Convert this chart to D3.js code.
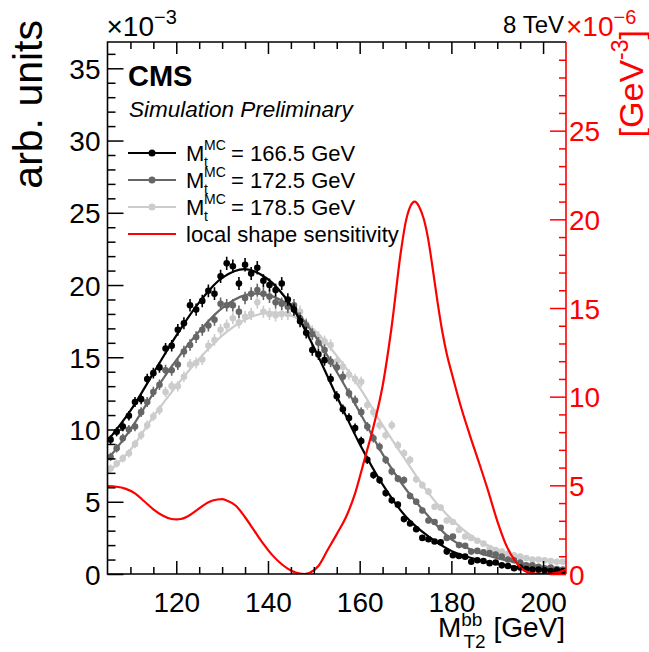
<!DOCTYPE html>
<html>
<head>
<meta charset="utf-8">
<script src="https://cdn.jsdelivr.net/npm/d3@7"></script>
<style>
  body { margin: 0; background: #fff; }
  svg { display: block; }
  text { font-family: "Liberation Sans", Arial, Helvetica, sans-serif; }
</style>
</head>
<body>
<svg id="chart" width="649" height="652"></svg>
<script>
// M_T2^bb templates, 75 bins of 4/3 GeV from 105 to 205 GeV (units of 1e-3)
const binStart = 105;
const binWidth = 4 / 3;

const mt1665 = [9.3, 9.85, 10.2, 10.95, 11.9, 12.1, 13.5, 13.9, 14.3, 15.6, 15.8, 16.9, 17.35, 18.6, 18.3,
  18.9, 19.6, 19.4, 20.6, 21.5, 21.3, 20.1, 21.4, 20.8, 21.2, 20.3, 20.0, 19.65, 20.1, 19.0,
  18.3, 17.5, 16.7, 15.5, 15.2, 14.8, 13.5, 12.3, 11.4, 10.8, 10.1, 9.2, 7.9, 6.85, 6.5,
  5.6, 5.1, 4.8, 3.8, 3.5, 3.1, 2.5, 2.4, 2.25, 2.2, 1.55, 1.3, 1.25, 1.2, 0.85,
  0.95, 0.9, 0.75, 0.8, 0.6, 0.55, 0.4, 0.45, 0.35, 0.3, 0.3, 0.25, 0.2, 0.25, 0.2];

const mt1725 = [8.1, 8.7, 9.4, 10.0, 10.2, 11.2, 11.9, 12.6, 13.1, 14.1, 14.1, 14.5, 15.4, 15.85, 16.4,
  16.9, 17.2, 17.6, 18.7, 18.6, 18.6, 18.15, 19.1, 19.4, 19.65, 19.4, 19.2, 18.8, 18.7, 18.5,
  18.6, 17.7, 17.2, 16.6, 16.0, 15.5, 14.7, 14.3, 13.65, 12.5, 12.0, 11.2, 10.2, 9.4, 8.8,
  7.9, 7.1, 6.6, 6.5, 5.4, 5.0, 4.4, 3.7, 3.6, 3.2, 2.5, 2.6, 2.0, 1.95, 1.55,
  1.6, 1.5, 1.45, 1.35, 1.2, 1.0, 0.95, 0.8, 0.6, 0.6, 0.5, 0.4, 0.45, 0.35, 0.3];

const mt1785 = [7.3, 7.65, 8.0, 8.35, 9.0, 9.6, 10.3, 10.9, 11.35, 12.6, 13.0, 13.0, 13.65, 14.5, 14.6,
  14.85, 15.8, 16.2, 16.9, 17.2, 17.7, 17.4, 17.8, 18.0, 18.8, 18.15, 18.0, 17.9, 18.0, 18.0,
  18.4, 18.15, 17.3, 16.8, 16.4, 16.1, 15.85, 14.7, 14.35, 13.8, 13.5, 13.3, 11.7, 11.2, 10.3,
  9.6, 10.3, 8.9, 8.35, 7.9, 6.55, 6.15, 5.7, 4.65, 4.6, 3.7, 3.6, 3.05, 2.6, 2.5,
  2.3, 2.1, 1.8, 1.65, 1.55, 1.4, 1.3, 1.2, 1.1, 1.0, 1.0, 0.95, 0.9, 0.85, 0.85];

// Fitted template curves
const fitMass = [105, 110, 115, 120, 125, 130, 135, 140, 145, 150, 155, 160, 165, 170, 175, 180, 185, 190, 195, 200, 205];
const fit1665 = [9.2, 11.3, 13.9, 16.5, 18.8, 20.5, 21.1, 20.4, 18.6, 15.7, 12.3, 9.0, 6.2, 4.0, 2.6, 1.6, 1.05, 0.7, 0.45, 0.3, 0.2];
const fit1725 = [7.9, 10.0, 12.5, 14.8, 16.8, 18.4, 19.3, 19.3, 18.5, 16.6, 14.0, 11.2, 8.3, 5.9, 4.0, 2.4, 1.6, 1.1, 0.75, 0.5, 0.35];
const fit1785 = [7.0, 8.6, 10.9, 13.0, 14.9, 16.5, 17.6, 18.1, 17.9, 16.9, 15.1, 12.9, 10.3, 7.9, 5.6, 3.8, 2.5, 1.7, 1.2, 0.95, 0.75];

// Local shape sensitivity (units of 1e-6 GeV^-3)
const sensMass = [105, 107, 109, 111, 113, 115, 117, 119, 120, 121, 123, 125, 127, 129, 130, 131, 133, 135, 137, 139,
  141, 143, 145, 147, 148, 149, 151, 153, 155, 157, 159, 161, 163, 165, 167, 169, 170, 171, 172, 173,
  174, 175, 176, 177, 178, 179, 180, 182, 184, 186, 188, 190, 192, 194, 196, 198, 200, 202, 204, 205];
const sensValues = [4.95, 4.92, 4.8, 4.55, 4.1, 3.65, 3.3, 3.1, 3.08, 3.1, 3.33, 3.7, 4.05, 4.2, 4.22, 4.15, 3.85, 3.2, 2.45, 1.7,
  1.05, 0.55, 0.2, 0.02, 0.0, 0.05, 0.45, 1.35, 2.25, 3.2, 4.55, 6.4, 8.3, 10.6, 14.0, 18.2, 19.8, 20.7, 21.0, 20.7,
  20.0, 18.8, 17.1, 15.3, 13.7, 12.4, 11.4, 9.5, 7.85, 6.3, 4.7, 3.0, 1.6, 0.7, 0.18, 0.02, 0.0, 0.02, 0.15, 0.25];

// Axis ticks and legend labels
const xMajorTicks = [120, 140, 160, 180, 200];
const xMinorTicks = [110, 115, 125, 130, 135, 145, 150, 155, 165, 170, 175, 185, 190, 195];
const yLeftTicks = [0, 5, 10, 15, 20, 25, 30, 35];
const yRightTicks = [0, 5, 10, 15, 20, 25];
const massLabels = ["166.5", "172.5", "178.5"];
const sensLabel = "local shape sensitivity";

const svg = d3.select("#chart");
const L = 107.5, R = 566, T = 42, B = 574;

const x = d3.scaleLinear().domain([105, 205]).range([L, R]);
const yL = d3.scaleLinear().domain([0, 36.82]).range([B, T]);
const yR = d3.scaleLinear().domain([0, 30]).range([B, T]);

const defs = svg.append("defs");
defs.append("clipPath").attr("id", "plotClip")
  .append("rect").attr("x", L).attr("y", T).attr("width", R - L).attr("height", B - T);

const plot = svg.append("g").attr("clip-path", "url(#plotClip)");

const series = [
  { vals: mt1785, fit: fit1785, color: "#cccccc" },
  { vals: mt1725, fit: fit1725, color: "#666666" },
  { vals: mt1665, fit: fit1665, color: "#000000" }
];

const errScale = 0.1; // statistical uncertainty ~ sqrt(N)

const fitLine = d3.line()
  .x((d, i) => x(fitMass[i]))
  .y(d => yL(d))
  .curve(d3.curveCatmullRom.alpha(0.5));

series.forEach(s => {
  const g = plot.append("g");
  g.append("path").datum(s.fit)
    .attr("d", fitLine).attr("fill", "none")
    .attr("stroke", s.color).attr("stroke-width", 2.2);
  const pts = s.vals.map((v, i) => ({ m: binStart + binWidth * (i + 0.5), v }));
  g.selectAll("line.err").data(pts).enter().append("line")
    .attr("x1", d => x(d.m)).attr("x2", d => x(d.m))
    .attr("y1", d => yL(d.v + errScale * Math.sqrt(d.v)))
    .attr("y2", d => yL(d.v - errScale * Math.sqrt(d.v)))
    .attr("stroke", s.color).attr("stroke-width", 1.6);
  g.selectAll("circle").data(pts).enter().append("circle")
    .attr("cx", d => x(d.m)).attr("cy", d => yL(d.v))
    .attr("r", 3.3).attr("fill", s.color);
});

// sensitivity curve on the right-hand scale
const sensLine = d3.line()
  .x((d, i) => x(sensMass[i]))
  .y(d => yR(d))
  .curve(d3.curveMonotoneX);
plot.append("path").datum(sensValues)
  .attr("d", sensLine).attr("fill", "none")
  .attr("stroke", "#ff0000").attr("stroke-width", 2.2);

// frame and axes
const axisColor = "#000";
function styleAxis(g, color) {
  g.select(".domain").remove();
  g.selectAll(".tick line").attr("stroke", color).attr("stroke-width", 1.5);
  g.selectAll(".tick text").attr("fill", color).style("font-family", "'Liberation Sans', Arial, sans-serif");
}

// bottom
const gxB = svg.append("g").attr("transform", `translate(0,${B})`)
  .call(d3.axisBottom(x).tickValues(xMajorTicks).tickSize(-13).tickPadding(18).tickFormat(d3.format("d")));
styleAxis(gxB, axisColor);
gxB.selectAll(".tick text").attr("font-size", 28);
const gxBm = svg.append("g").attr("transform", `translate(0,${B})`)
  .call(d3.axisBottom(x).tickValues(xMinorTicks).tickSize(-7).tickFormat(""));
styleAxis(gxBm, axisColor);

// top
const gxT = svg.append("g").attr("transform", `translate(0,${T})`)
  .call(d3.axisTop(x).tickValues(xMajorTicks).tickSize(-12).tickFormat(""));
styleAxis(gxT, axisColor);
const gxTm = svg.append("g").attr("transform", `translate(0,${T})`)
  .call(d3.axisTop(x).tickValues(xMinorTicks).tickSize(-7).tickFormat(""));
styleAxis(gxTm, axisColor);

// left
const gyL = svg.append("g").attr("transform", `translate(${L},0)`)
  .call(d3.axisLeft(yL).tickValues(yLeftTicks).tickSize(-16).tickPadding(7).tickFormat(d3.format("d")));
styleAxis(gyL, axisColor);
gyL.selectAll(".tick text").attr("font-size", 28).attr("dy", "0.36em");
const yLeftMinor = d3.range(1, 37).filter(v => v % 5 !== 0);
const gyLm = svg.append("g").attr("transform", `translate(${L},0)`)
  .call(d3.axisLeft(yL).tickValues(yLeftMinor).tickSize(-8).tickFormat(""));
styleAxis(gyLm, axisColor);

// frame
svg.append("path")
  .attr("d", `M${R},${T}H${L}V${B}H${R}`)
  .attr("fill", "none").attr("stroke", "#000").attr("stroke-width", 1.6);

// right (red)
const red = "#ff0000";
const gyR = svg.append("g").attr("transform", `translate(${R},0)`)
  .call(d3.axisRight(yR).tickValues(yRightTicks).tickSize(-16).tickPadding(3).tickFormat(d3.format("d")));
styleAxis(gyR, red);
gyR.selectAll(".tick text").attr("font-size", 28).attr("dy", "0.36em");
const yRightMinor = d3.range(1, 30).filter(v => v % 5 !== 0);
const gyRm = svg.append("g").attr("transform", `translate(${R},0)`)
  .call(d3.axisRight(yR).tickValues(yRightMinor).tickSize(-7).tickFormat(""));
styleAxis(gyRm, red);
svg.append("line").attr("x1", R).attr("x2", R).attr("y1", T).attr("y2", B)
  .attr("stroke", red).attr("stroke-width", 1.6);

// exponent labels
const expL = svg.append("text").attr("x", L - 1).attr("y", 36).attr("font-size", 28).attr("fill", "#000");
expL.append("tspan").text("\u00d710");
expL.append("tspan").attr("font-size", 20).attr("dy", -12).text("\u22123");

svg.append("text").attr("x", 564).attr("y", 33).attr("font-size", 24)
  .attr("text-anchor", "end").attr("fill", "#000").text("8 TeV");

const expR = svg.append("text").attr("x", R).attr("y", 36).attr("font-size", 28).attr("fill", red);
expR.append("tspan").text("\u00d710");
expR.append("tspan").attr("font-size", 20).attr("dy", -12).text("\u22126");

// axis titles
svg.append("text")
  .attr("transform", "translate(42,20) rotate(-90)")
  .attr("text-anchor", "end").attr("font-size", 41).attr("fill", "#000")
  .text("arb. units");

const rt = svg.append("text")
  .attr("transform", "translate(643,30) rotate(-90)")
  .attr("text-anchor", "end").attr("font-size", 34).attr("fill", red);
rt.append("tspan").text("[GeV");
rt.append("tspan").attr("font-size", 23).attr("dy", -15).text("-3");
rt.append("tspan").attr("dy", 15).text("]");

const xt = svg.append("text").attr("x", 565).attr("y", 637)
  .attr("text-anchor", "end").attr("font-size", 28).attr("fill", "#000");
xt.append("tspan").text("M");
xt.append("tspan").attr("font-size", 19).attr("dy", -11).text("bb");
xt.append("tspan").attr("font-size", 19).attr("dx", -19).attr("dy", 22).text("T2");
xt.append("tspan").attr("dy", -11).text(" [GeV]");

// CMS labels
svg.append("text").attr("x", 128).attr("y", 86).attr("font-size", 29)
  .attr("font-weight", "bold").attr("fill", "#000").text("CMS");
svg.append("text").attr("x", 129).attr("y", 117).attr("font-size", 22.5)
  .attr("font-style", "italic").attr("fill", "#000").text("Simulation Preliminary");

// legend
const legendColors = ["#000000", "#666666", "#cccccc"];
const rowY = [153, 180, 207, 234];
massLabels.forEach((m, i) => {
  const y = rowY[i];
  svg.append("line").attr("x1", 128).attr("x2", 176).attr("y1", y).attr("y2", y)
    .attr("stroke", legendColors[i]).attr("stroke-width", 2);
  svg.append("circle").attr("cx", 152).attr("cy", y).attr("r", 3.5).attr("fill", legendColors[i]);
  const t = svg.append("text").attr("y", y + 8).attr("font-size", 22).attr("fill", "#000");
  t.append("tspan").attr("x", 186).text("M");
  t.append("tspan").attr("x", 204).attr("dy", -11).attr("font-size", 14).text("MC");
  t.append("tspan").attr("x", 204).attr("dy", 17).attr("font-size", 14).text("t");
  t.append("tspan").attr("x", 231).attr("dy", -6).text(`= ${m} GeV`);
});
svg.append("line").attr("x1", 128).attr("x2", 176).attr("y1", rowY[3]).attr("y2", rowY[3])
  .attr("stroke", red).attr("stroke-width", 2);
svg.append("text").attr("x", 186).attr("y", rowY[3] + 8).attr("font-size", 22)
  .attr("fill", "#000").text(sensLabel);
</script>
</body>
</html>
